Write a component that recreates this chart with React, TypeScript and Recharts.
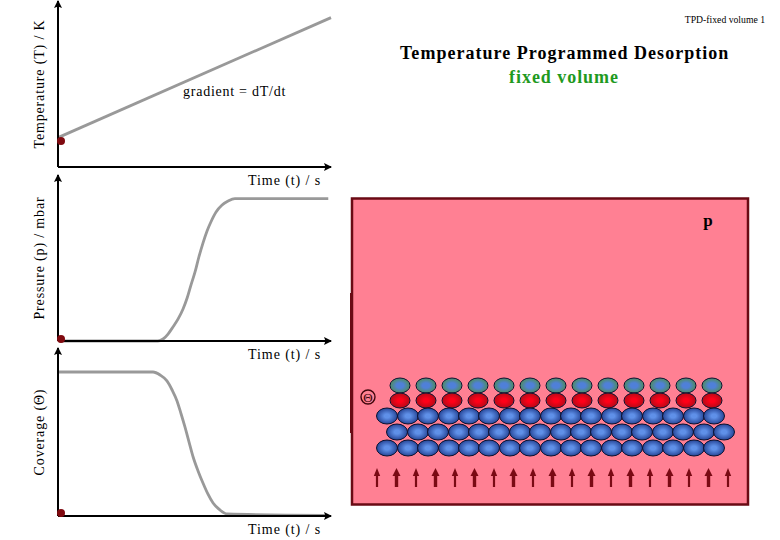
import { LineChart, Line, XAxis, YAxis, ReferenceDot, ReferenceArea, ReferenceLine, ScatterChart, Scatter } from 'recharts';

const SERIF = '"Liberation Serif", serif';

// ramp, time in % of the axis
const tempTime = [0, 100];
const tempValues = [17.7, 90];

const pressureTime = [0.5, 30, 36.6, 38.5, 40.3, 42.1, 44, 45.8, 47.3, 48.7, 50.2, 51.6, 53.1, 54.6, 56, 57.9, 60.1, 62.3, 64.8, 99];
const pressureValues = [0, 0, 0, 1.2, 4.2, 8.4, 13.3, 19.3, 25.9, 33.7, 41.6, 50.6, 59, 66.3, 71.7, 77.7, 81.9, 84.3, 85.8, 85.8];

const coverageTime = [0, 34.8, 37.4, 39.9, 41.8, 43.6, 45.1, 46.5, 48, 49.5, 51.3, 53.1, 54.9, 56.8, 59.3, 61.9, 97.8];
const coverageValues = [85.7, 85.7, 83.9, 80.4, 75, 68.5, 60.7, 53, 44, 35.1, 26.8, 19.6, 13.1, 7.7, 3.6, 1.2, 0.4];

// schematic of the cell, in page units
const topRowX = [400, 426, 452, 478, 504, 530, 556, 582, 608, 634, 660, 686, 712];
const blueRowX = [387, 408, 428, 449, 469, 489, 510, 530, 551, 571, 591, 612, 632, 653, 673, 694, 714];
const blueRowShiftedX = [397, 418, 438, 459, 479, 499, 520, 540, 561, 581, 601, 622, 642, 663, 683, 704, 724];
const arrowThinX = [377, 416, 455, 494, 533, 572, 611, 650, 689, 728];
const arrowThickX = [396.5, 435.5, 474.5, 513.5, 552.5, 591.5, 630.5, 669.5, 708.5];

const rows = (xs: number[], y: number) => xs.map((x) => ({ x, y }));
const table = (time: number[], values: number[]) => time.map((t, i) => ({ t, v: values[i] }));

const Atom = (fill: string, rx: number, ry: number) => (props: any) => (
  <ellipse cx={props.cx} cy={props.cy} rx={rx} ry={ry} fill={`url(#${fill})`} stroke="#0b1230" strokeWidth={1} />
);

const Arrow = (head: number, shaft: number) => (props: any) => {
  const { cx, cy } = props;
  return (
    <path
      d={`M${cx} ${cy - 10} L${cx + head} ${cy - 2} L${cx + shaft} ${cy - 2} L${cx + shaft} ${cy + 9} L${cx - shaft} ${cy + 9} L${cx - shaft} ${cy - 2} L${cx - head} ${cy - 2} Z`}
      fill="#7a0a14"
    />
  );
};

function Plot({ id, top, height, marginTop, data, yLabel, dotY }: any) {
  return (
    <div style={{ position: 'absolute', left: 0, top }}>
      <LineChart width={340} height={height} data={data} margin={{ top: marginTop, right: 9, bottom: 0, left: 21 }}>
        <defs>
          <marker id={id} markerUnits="userSpaceOnUse" markerWidth="9" markerHeight="9" refX="7" refY="4" orient="auto-start-reverse">
            <path d="M0 0 L8 4 L0 8 L1.5 4 Z" fill="#000" />
          </marker>
        </defs>
        <XAxis
          dataKey="t"
          type="number"
          domain={[0, 100]}
          height={28}
          tick={false}
          tickLine={false}
          axisLine={{ stroke: '#000', strokeWidth: 2, markerEnd: `url(#${id})` }}
          label={{ value: 'Time (t) / s', position: 'insideBottomRight', offset: 10, fill: '#000', fontSize: 14, letterSpacing: 0.9 }}
        />
        <YAxis
          type="number"
          domain={[0, 100]}
          width={37}
          tick={false}
          tickLine={false}
          axisLine={{ stroke: '#000', strokeWidth: 2, markerStart: `url(#${id})` }}
          label={{ value: yLabel, angle: -90, position: 'center', fill: '#000', fontSize: 14, letterSpacing: 0.85 }}
        />
        <Line dataKey="v" type="monotone" stroke="#999999" strokeWidth={2.8} dot={false} isAnimationActive={false} />
        <ReferenceDot x={1.1} y={dotY} r={4} fill="#800a10" stroke="none" />
      </LineChart>
    </div>
  );
}

function Cell() {
  return (
    <div style={{ position: 'absolute', left: 340, top: 190 }}>
      <ScatterChart width={420} height={325} margin={{ top: 0, right: 0, bottom: 0, left: 0 }}>
        <defs>
          <radialGradient id="teal">
            <stop offset="35%" stopColor="#4f80d8" />
            <stop offset="85%" stopColor="#4f8a78" />
          </radialGradient>
          <radialGradient id="red">
            <stop offset="25%" stopColor="#ff0018" />
            <stop offset="95%" stopColor="#b80a18" />
          </radialGradient>
          <radialGradient id="blue">
            <stop offset="25%" stopColor="#5f90e8" />
            <stop offset="95%" stopColor="#2a4a9c" />
          </radialGradient>
        </defs>
        <XAxis dataKey="x" type="number" domain={[340, 760]} hide />
        <YAxis dataKey="y" type="number" domain={[190, 515]} reversed hide width={0} />
        <ReferenceArea x1={352} x2={748} y1={198.5} y2={504.5} fill="#ff8093" fillOpacity={1} stroke="#6a0a14" strokeWidth={2.5} />
        <ReferenceLine segment={[{ x: 351.5, y: 293 }, { x: 351.5, y: 433 }]} stroke="#6a0a14" strokeWidth={3} />
        <ReferenceDot
          x={368}
          y={397}
          r={7}
          fill="none"
          stroke="#40060c"
          strokeWidth={1.4}
          label={{ value: 'Θ', position: 'center', fill: '#40060c', fontSize: 13 }}
        />
        <ReferenceDot
          x={708}
          y={220}
          r={0}
          fill="none"
          stroke="none"
          label={{ value: 'p', position: 'center', fill: '#000', fontSize: 17, fontWeight: 'bold' }}
        />
        <Scatter data={rows(topRowX, 385.5)} shape={Atom('teal', 10, 7.5)} isAnimationActive={false} />
        <Scatter data={rows(topRowX, 400.5)} shape={Atom('red', 10, 7.5)} isAnimationActive={false} />
        <Scatter data={rows(blueRowX, 416)} shape={Atom('blue', 10.5, 8)} isAnimationActive={false} />
        <Scatter data={rows(blueRowShiftedX, 432)} shape={Atom('blue', 10.5, 8)} isAnimationActive={false} />
        <Scatter data={rows(blueRowX, 448)} shape={Atom('blue', 10.5, 8)} isAnimationActive={false} />
        <Scatter data={rows(arrowThinX, 478)} shape={Arrow(3.2, 1.1)} isAnimationActive={false} />
        <Scatter data={rows(arrowThickX, 478)} shape={Arrow(4, 1.7)} isAnimationActive={false} />
      </ScatterChart>
    </div>
  );
}

export default function App() {
  return (
    <div style={{ position: 'absolute', left: 0, top: 0, width: 780, height: 540, overflow: 'hidden', background: '#fff', fontFamily: SERIF }}>
      <Cell />
      <Plot id="arrowT" top={0} height={195} marginTop={1} data={table(tempTime, tempValues)} yLabel="Temperature (T) / K" dotY={15.7} />
      <Plot id="arrowP" top={170} height={199} marginTop={5} data={table(pressureTime, pressureValues)} yLabel="Pressure (p) / mbar" dotY={1.2} />
      <Plot id="arrowC" top={343} height={201} marginTop={5} data={table(coverageTime, coverageValues)} yLabel="Coverage (Θ)" dotY={1.8} />

      <div style={{ position: 'absolute', left: 183, top: 84, fontSize: 14, letterSpacing: 0.75 }}>gradient = dT/dt</div>
      <div style={{ position: 'absolute', right: 15, top: 14, fontSize: 9.7 }}>TPD-fixed volume 1</div>
      <div style={{ position: 'absolute', left: 400, width: 328, top: 43, textAlign: 'center', fontSize: 18, fontWeight: 'bold', letterSpacing: 1.02, whiteSpace: 'nowrap' }}>
        Temperature Programmed Desorption
      </div>
      <div style={{ position: 'absolute', left: 400, width: 328, top: 67, textAlign: 'center', fontSize: 18, fontWeight: 'bold', color: '#1f9a1f', letterSpacing: 0.95 }}>
        fixed volume
      </div>
    </div>
  );
}
